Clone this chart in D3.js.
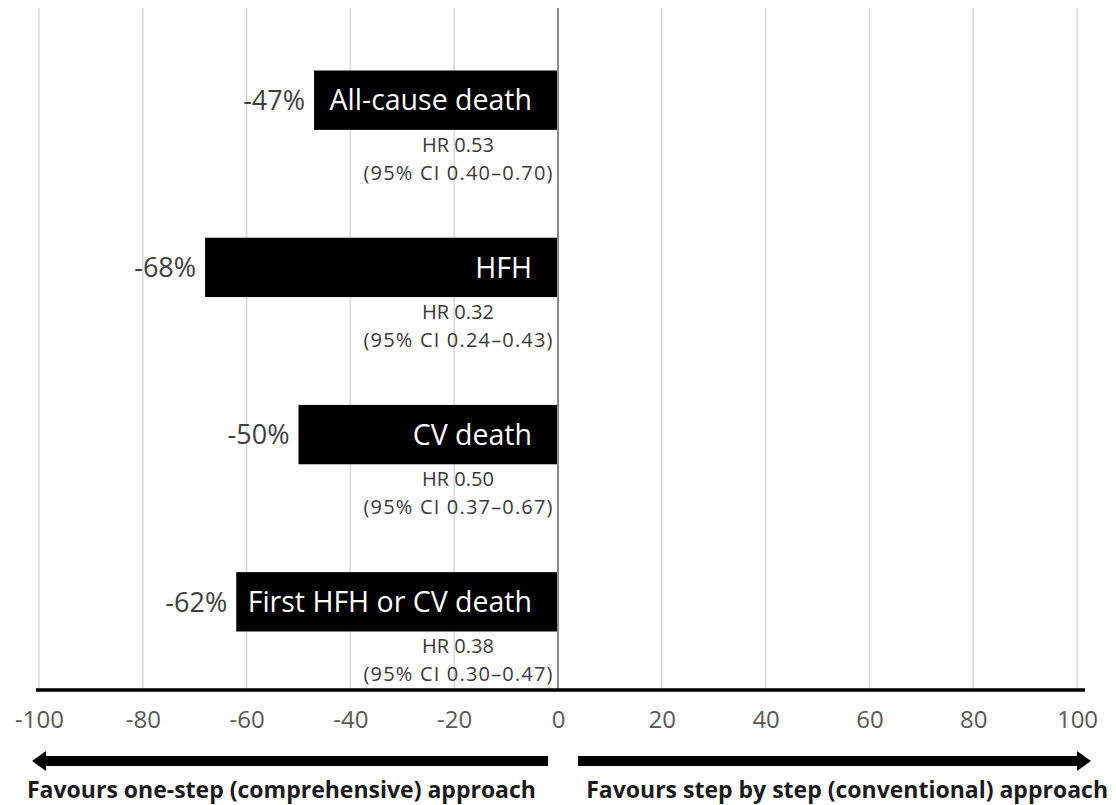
<!DOCTYPE html>
<html>
<head>
<meta charset="utf-8">
<script src="https://cdn.jsdelivr.net/npm/d3@7"></script>
<style>
  html, body { margin: 0; padding: 0; background: #fff; }
  svg { display: block; font-family: "Open Sans", Lato, sans-serif; }
</style>
</head>
<body>
<svg id="chart" width="1116" height="805"></svg>
<script>
// ---- data ----
const categories = ["All-cause death", "HFH", "CV death", "First HFH or CV death"];
const changes = [-47, -68, -50, -62];
const hrLabels = ["HR 0.53", "HR 0.32", "HR 0.50", "HR 0.38"];
const ciLabels = ["(95% CI 0.40\u20130.70)", "(95% CI 0.24\u20130.43)", "(95% CI 0.37\u20130.67)", "(95% CI 0.30\u20130.47)"];
const xTicks = [-100, -80, -60, -40, -20, 0, 20, 40, 60, 80, 100];
const leftNote = "Favours one-step (comprehensive) approach";
const rightNote = "Favours step by step (conventional) approach";

const svg = d3.select("#chart");
const plotTop = 8, plotBottom = 690;

const x = d3.scaleLinear().domain([-100, 100]).range([39, 1077]);
const y = d3.scaleBand().domain(categories).range([17, 685]).paddingInner(0.645).paddingOuter(0.32);

// gridlines
svg.append("g").selectAll("line").data(xTicks.filter(d => d !== 0)).join("line")
  .attr("x1", d => x(d)).attr("x2", d => x(d))
  .attr("y1", plotTop).attr("y2", plotBottom)
  .attr("stroke", "#d9d9d9").attr("stroke-width", 1.5);

// bars
const rows = categories.map((c, i) => ({ c, v: changes[i], hr: hrLabels[i], ci: ciLabels[i] }));
svg.append("g").selectAll("rect").data(rows).join("rect")
  .attr("x", d => x(d.v)).attr("width", d => x(0) - x(d.v))
  .attr("y", d => y(d.c)).attr("height", y.bandwidth())
  .attr("fill", "#000");

// zero line
svg.append("line")
  .attr("x1", x(0)).attr("x2", x(0)).attr("y1", plotTop).attr("y2", plotBottom)
  .attr("stroke", "#8c8c8c").attr("stroke-width", 2);

// bar inner labels
svg.append("g").selectAll("text").data(rows).join("text")
  .attr("x", x(0) - 26).attr("y", d => y(d.c) + y.bandwidth() / 2)
  .attr("dy", "0.36em").attr("text-anchor", "end")
  .attr("fill", "#fff").attr("font-size", 28.5)
  .text(d => d.c);

// value labels
svg.append("g").selectAll("text").data(rows).join("text")
  .attr("x", d => x(d.v) - 9).attr("y", d => y(d.c) + y.bandwidth() / 2)
  .attr("dy", "0.36em").attr("text-anchor", "end")
  .attr("fill", "#404040").attr("font-size", 27)
  .text(d => d.v + "%");

// HR labels
const hrG = svg.append("g").selectAll("g").data(rows).join("g");
hrG.append("text")
  .attr("x", x(0) - 100).attr("y", d => y(d.c) + y.bandwidth() + 22)
  .attr("text-anchor", "middle").attr("fill", "#3a3a3a").attr("font-size", 20)
  .text(d => d.hr);
hrG.append("text")
  .attr("x", x(0) - 100).attr("y", d => y(d.c) + y.bandwidth() + 50)
  .attr("text-anchor", "middle").attr("fill", "#3a3a3a").attr("font-size", 20)
  .attr("textLength", 189).attr("lengthAdjust", "spacing")
  .text(d => d.ci);

// bottom axis
const axis = d3.axisBottom(x).tickValues(xTicks).tickSize(0).tickPadding(21)
  .tickFormat(d => String(d));
const ag = svg.append("g").attr("transform", `translate(0,${plotBottom})`).call(axis);
ag.select(".domain").remove();
ag.selectAll("text").attr("font-size", 24).attr("fill", "#595959")
  .attr("font-family", "'Open Sans', Lato, sans-serif");
svg.append("line").attr("x1", 36).attr("x2", 1085).attr("y1", plotBottom).attr("y2", plotBottom)
  .attr("stroke", "#000").attr("stroke-width", 3.5);

// arrows
function arrow(x1, x2, yy) {
  const dir = Math.sign(x2 - x1);
  const head = 14;
  svg.append("line").attr("x1", x1).attr("x2", x2 - dir * head).attr("y1", yy).attr("y2", yy)
    .attr("stroke", "#000").attr("stroke-width", 10);
  svg.append("path")
    .attr("d", `M${x2},${yy} L${x2 - dir * head},${yy - 10} L${x2 - dir * head},${yy + 10} Z`)
    .attr("fill", "#000");
}
arrow(548, 32, 761);
arrow(578, 1091, 761);

// notes
svg.append("text").attr("x", 27).attr("y", 798).attr("font-size", 23).attr("font-weight", "bold")
  .attr("fill", "#1a1a1a").text(leftNote);
svg.append("text").attr("x", 1108).attr("y", 798).attr("text-anchor", "end")
  .attr("font-size", 23).attr("font-weight", "bold").attr("fill", "#1a1a1a").text(rightNote);
</script>
</body>
</html>
